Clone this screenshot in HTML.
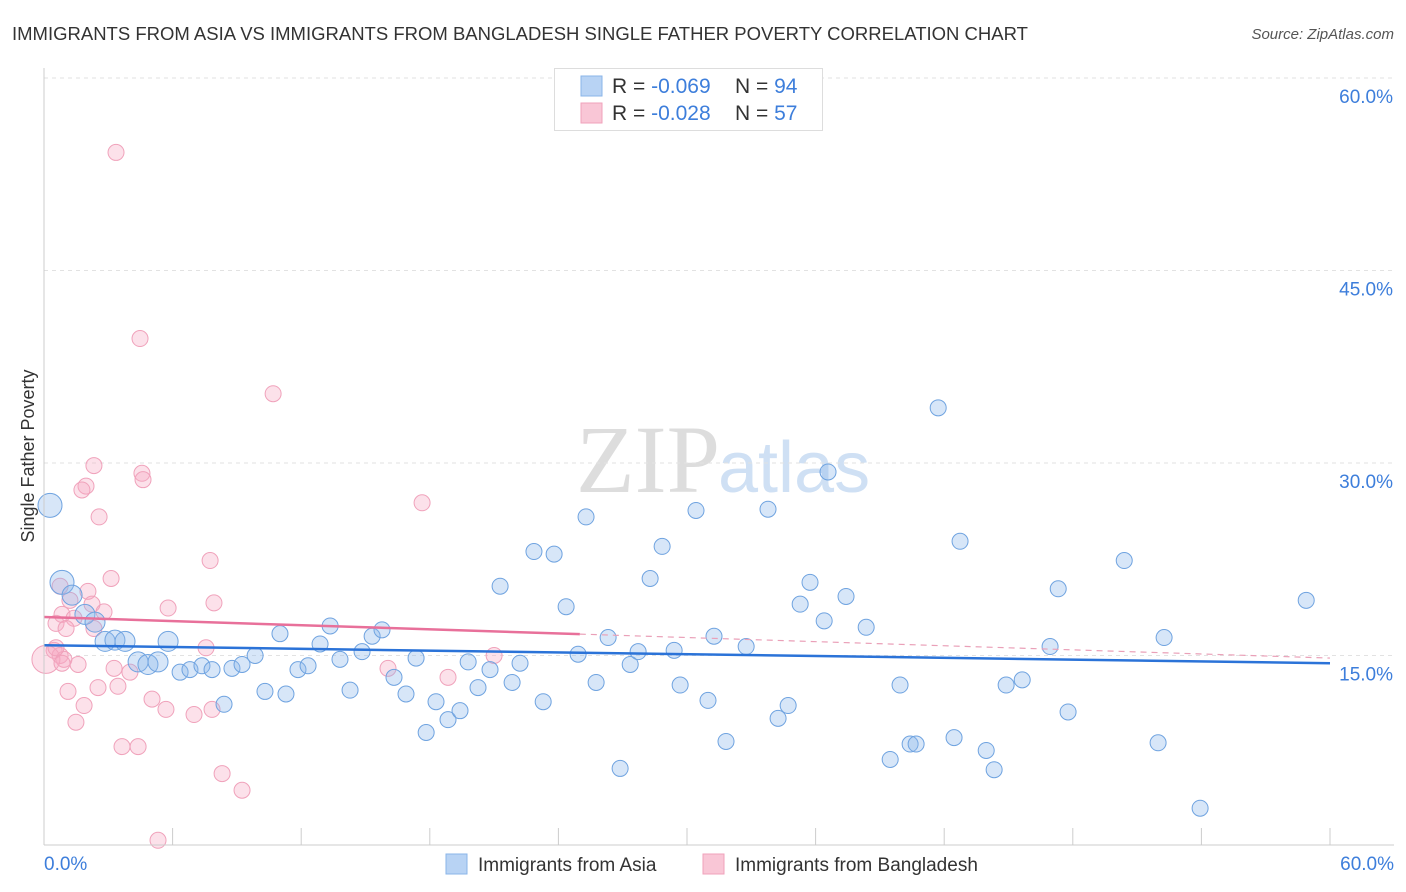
<!DOCTYPE html>
<html><head><meta charset="utf-8"><style>
body{margin:0;background:#fff;font-family:"Liberation Sans",sans-serif;}
svg{display:block}
</style></head><body>
<svg id="chart" width="1406" height="892">
<text x="12" y="40" font-size="18.5" fill="#333">IMMIGRANTS FROM ASIA VS IMMIGRANTS FROM BANGLADESH SINGLE FATHER POVERTY CORRELATION CHART</text>
<text x="1394" y="39" font-size="15" fill="#555" font-style="italic" text-anchor="end">Source: ZipAtlas.com</text>
<text x="720" y="492" font-size="96" fill="#ddd" text-anchor="end" font-family="Liberation Serif">ZIP</text>
<text x="718" y="492" font-size="72" fill="#cfe0f4">atlas</text>
<text transform="translate(34,456) rotate(-90)" font-size="18" fill="#333" text-anchor="middle">Single Father Poverty</text>
<g id="grid"></g><g id="pts"></g><g id="trend"></g>
<line x1="44" y1="68" x2="44" y2="845" stroke="#ccc"/>
<line x1="44" y1="845" x2="1394" y2="845" stroke="#ccc"/>
<text x="44" y="870" font-size="19" fill="#3d7edb">0.0%</text>
<text x="1394" y="870" font-size="19" fill="#3d7edb" text-anchor="end">60.0%</text>
<g>
<rect x="554.5" y="68.5" width="268" height="62" fill="#fff" stroke="#ddd"/>
<rect x="581" y="76" width="21" height="20" fill="#b8d3f4" stroke="#8ab4e8"/>
<rect x="581" y="103" width="21" height="20" fill="#f9c6d6" stroke="#f0a2bb"/>
<text x="612" y="93" font-size="21" fill="#333">R = <tspan fill="#3d7edb">-0.069</tspan><tspan x="735">N = </tspan><tspan fill="#3d7edb">94</tspan></text>
<text x="612" y="120" font-size="21" fill="#333">R = <tspan fill="#3d7edb">-0.028</tspan><tspan x="735">N = </tspan><tspan fill="#3d7edb">57</tspan></text>
</g>
<g>
<rect x="446" y="854" width="21" height="20" fill="#b8d3f4" stroke="#8ab4e8"/>
<text x="478" y="871" font-size="19" fill="#333">Immigrants from Asia</text>
<rect x="703" y="854" width="21" height="20" fill="#f9c6d6" stroke="#f0a2bb"/>
<text x="735" y="871" font-size="19" fill="#333">Immigrants from Bangladesh</text>
</g>
</svg>
<script>
const yTicks=[15,30,45,60];
const xTicks=[0,6,12,18,24,30,36,42,48,54,60];
const asiaX=[0.28,0.84,1.31,1.91,2.38,2.85,3.31,3.78,4.39,4.85,5.32,5.79,6.35,6.81,7.37,7.84,8.40,8.77,9.24,9.85,10.31,11.01,11.29,11.85,12.32,12.88,13.35,13.81,14.28,14.84,15.31,15.77,16.33,16.89,17.36,17.83,18.29,18.85,19.41,19.79,20.25,20.81,21.28,21.84,22.21,22.86,23.29,23.80,24.36,24.92,25.29,25.76,26.32,26.88,27.35,27.72,28.28,28.84,29.40,29.68,30.42,30.98,31.26,31.82,32.76,33.78,34.25,34.72,35.28,35.74,36.40,36.58,37.42,38.36,39.48,39.94,40.41,40.69,41.72,42.46,42.74,43.96,44.33,44.89,45.64,46.94,47.32,47.78,50.40,51.98,52.26,53.94,58.89];
const asiaY=[26.7,20.7,19.7,18.2,17.6,16.1,16.2,16.1,14.5,14.3,14.5,16.1,13.7,13.9,14.2,13.9,11.2,14.0,14.3,15.0,12.2,16.7,12.0,13.9,14.2,15.9,17.3,14.7,12.3,15.3,16.5,17.0,13.3,12.0,14.8,9.0,11.4,10.0,10.7,14.5,12.5,13.9,20.4,12.9,14.4,23.1,11.4,22.9,18.8,15.1,25.8,12.9,16.4,6.2,14.3,15.3,21.0,23.5,15.4,12.7,26.3,11.5,16.5,8.3,15.7,26.4,10.1,11.1,19.0,20.7,17.7,29.3,19.6,17.2,6.9,12.7,8.1,8.1,34.3,8.6,23.9,7.6,6.1,12.7,13.1,15.7,20.2,10.6,22.4,8.2,16.4,3.1,19.3];
const bangX=[3.36,4.48,10.69,17.64,2.33,4.57,4.62,1.96,1.77,2.57,7.75,3.13,0.75,2.05,1.21,2.24,7.93,5.79,2.80,0.84,1.40,0.56,1.03,2.33,7.56,0.47,0.75,0.93,0.09,1.59,0.84,16.05,3.27,4.01,18.85,3.45,2.52,1.12,5.04,1.87,5.69,7.84,7.00,1.49,3.64,4.39,8.31,9.24,5.32,21.0,0.56];
const bangY=[54.2,39.7,35.4,26.9,29.8,29.2,28.7,28.2,27.9,25.8,22.4,21.0,20.4,20.0,19.3,19.0,19.1,18.7,18.4,18.2,17.9,17.5,17.1,17.1,15.6,15.4,15.0,14.7,14.7,14.3,14.4,14.0,14.0,13.7,13.3,12.6,12.5,12.2,11.6,11.1,10.8,10.8,10.4,9.8,7.9,7.9,5.8,4.5,0.6,15.0,15.6];
const asiaTrend=[15.8,14.4];
const bangTrend=[18.0,14.8];
const bangSolidEnd=25;
const X=v=>44+v*(1330-44)/60;
const Y=v=>848-v*(848-78)/60;
const NS="http://www.w3.org/2000/svg";
function mk(t,a,p){const e=document.createElementNS(NS,t);for(const k in a)e.setAttribute(k,a[k]);p.appendChild(e);return e;}
const grid=document.getElementById('grid');
yTicks.forEach(t=>{
 const l=mk('line',{x1:44,x2:1394,y1:Y(t),y2:Y(t),stroke:'#e2e2e2','stroke-dasharray':'4,4'},grid);
 
 
 const tx=mk('text',{x:1393,y:Y(t)+25,'font-size':19,fill:'#3d7edb','text-anchor':'end'},grid);
 tx.textContent=t.toFixed(1)+'%';
 
 
});
xTicks.forEach((t,i)=>{if(i===0)return;
 const l=mk('line',{x1:X(t),x2:X(t),y1:828,y2:845,stroke:'#ccc'},grid);
 
 
});
const pts=document.getElementById('pts');
bangX.forEach((x,i)=>{
 const r=i===28?14:8;
 const c=mk('circle',{cx:X(x),cy:Y(bangY[i]),r:r,fill:'rgba(246,170,196,0.35)',stroke:'#f0a2bb','stroke-width':1},pts);
 
 
});
asiaX.forEach((x,i)=>{
 const r=i<2?12:(i<12?10:8);
 const c=mk('circle',{cx:X(x),cy:Y(asiaY[i]),r:r,fill:'rgba(140,184,235,0.35)',stroke:'#6fa3e0','stroke-width':1},pts);
 
 
});
const tr=document.getElementById('trend');
const bl=mk('line',{x1:X(0),y1:Y(asiaTrend[0]),x2:X(60),y2:Y(asiaTrend[1]),stroke:'#2b73d8','stroke-width':2.5},tr);


const by=x=>bangTrend[0]+(bangTrend[1]-bangTrend[0])*x/60;
const pl=mk('line',{x1:X(0),y1:Y(by(0)),x2:X(bangSolidEnd),y2:Y(by(bangSolidEnd)),stroke:'#e8709a','stroke-width':2.5},tr);


const pd=mk('line',{x1:X(bangSolidEnd),y1:Y(by(bangSolidEnd)),x2:X(60),y2:Y(by(60)),stroke:'#eaa0b8','stroke-width':1.2,'stroke-dasharray':'6,5'},tr);


</script>
</body></html>
